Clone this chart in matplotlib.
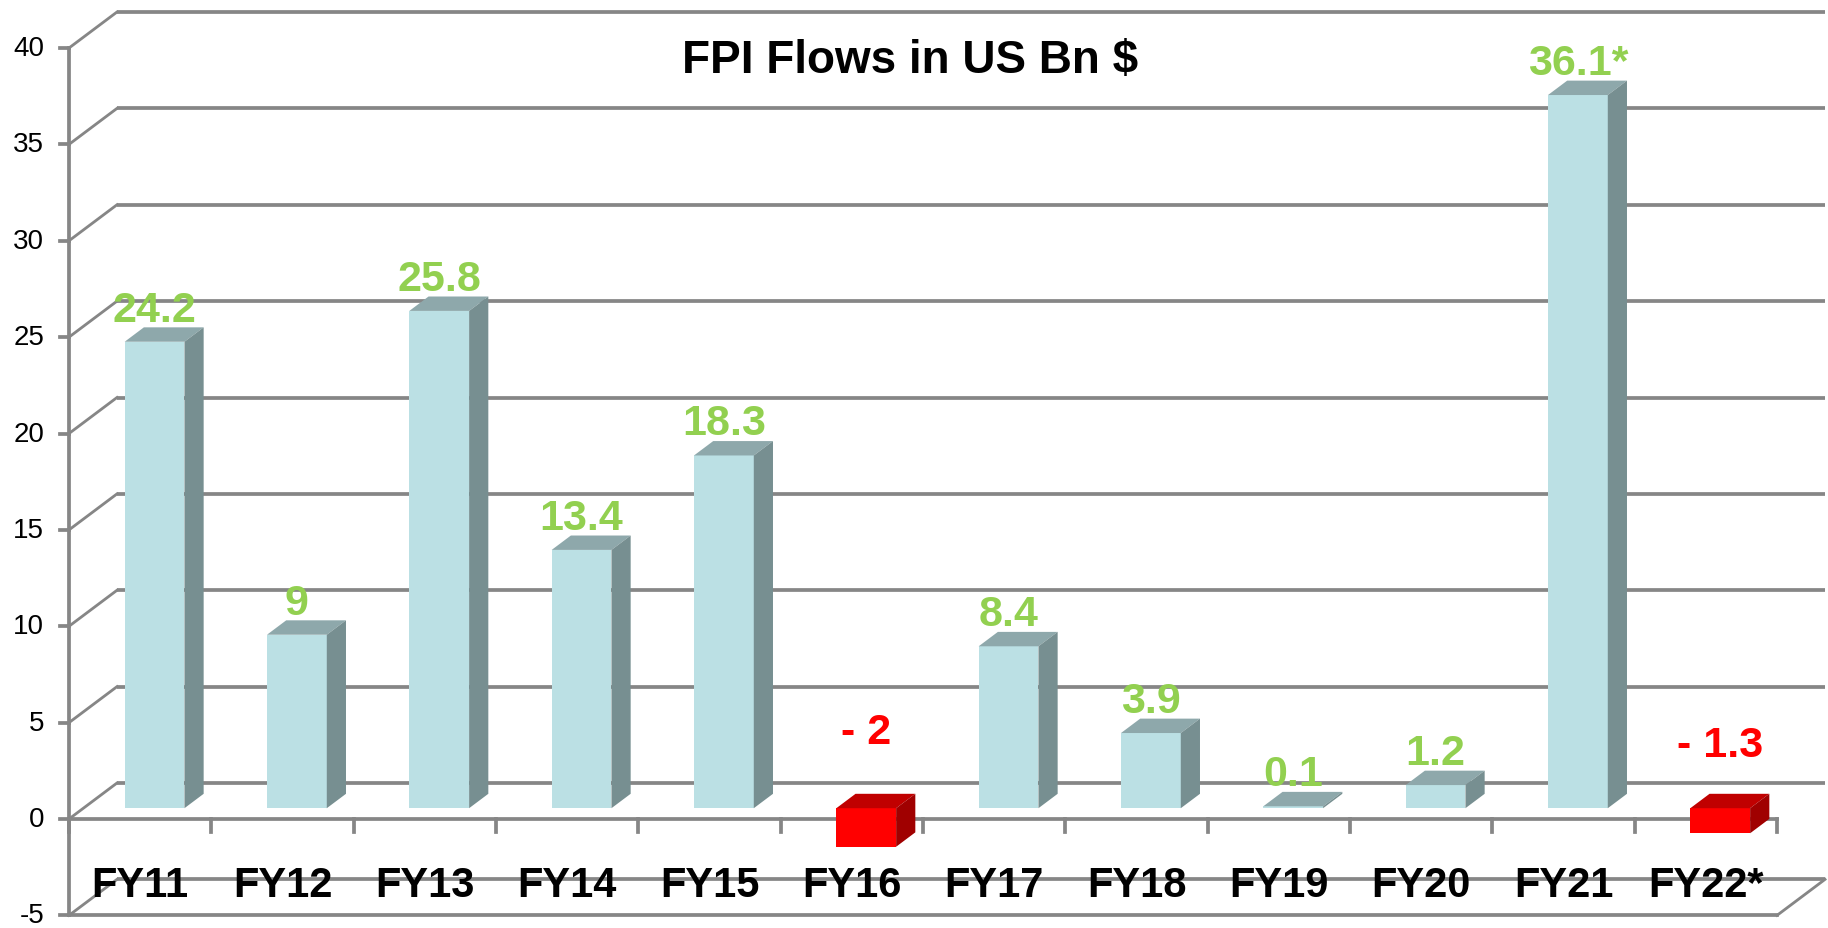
import matplotlib
matplotlib.use("Agg")
import matplotlib.pyplot as plt
from matplotlib.patches import Polygon

# ---- data ----
categories = ["FY11", "FY12", "FY13", "FY14", "FY15", "FY16",
              "FY17", "FY18", "FY19", "FY20", "FY21", "FY22*"]
bar_values = [24.2, 9.0, 25.8, 13.4, 18.3, -2.0, 8.4, 3.9, 0.1, 1.2, 37.0, -1.3]
value_labels = ["24.2", "9", "25.8", "13.4", "18.3", "- 2", "8.4", "3.9",
                "0.1", "1.2", "36.1*", "- 1.3"]
y_ticks = [-5, 0, 5, 10, 15, 20, 25, 30, 35, 40]
title = "FPI Flows in US Bn $"

plt.rcParams['font.family'] = ['Liberation Sans', 'DejaVu Sans']

W, H = 1828, 929
fig = plt.figure(figsize=(W / 100, H / 100), dpi=100)
ax = fig.add_axes([0, 0, 1, 1])
ax.axis('off')

# pixel geometry of the front plane
px_left, px_right = 69, 1777          # front plane x extent (-0.5 .. 11.5)
py_zero, px_per_unit = 820, 19.275     # y pixel of 0, pixels per value unit
n = len(categories)
px_per_cat = (px_right - px_left) / n
ax.set_xlim(-0.5 - px_left / px_per_cat, -0.5 + (W - px_left) / px_per_cat)
ax.set_ylim((py_zero - H) / px_per_unit, py_zero / px_per_unit)

DX = 48 / px_per_cat     # depth offset of back wall (x, data units)
DY = 36 / px_per_unit    # depth offset of back wall (y, data units)
xl0, xr0 = -0.5, n - 0.5
ymin, ymax = y_ticks[0], y_ticks[-1]

grid_c = '#868686'
lw = 2.7

# back wall grid lines + side wall diagonals
for v in y_ticks:
    ax.plot([xl0 + DX, xr0 + DX], [v + DY, v + DY], color=grid_c, lw=lw,
            solid_capstyle='butt', zorder=1)
    ax.plot([xl0, xl0 + DX], [v, v + DY], color=grid_c, lw=lw * 0.75, zorder=1)

# floor at ymin
ax.plot([xl0, xr0], [ymin, ymin], color=grid_c, lw=lw, zorder=1)
ax.plot([xr0, xr0 + DX], [ymin, ymin + DY], color=grid_c, lw=lw * 0.75, zorder=1)

# front vertical axis with ticks
ax.plot([xl0, xl0], [ymin, ymax], color=grid_c, lw=lw, zorder=4)
tick_len_x = 9 / px_per_cat
for v in y_ticks:
    ax.plot([xl0 - tick_len_x, xl0], [v, v], color=grid_c, lw=lw, zorder=4)
    ax.text(xl0 - 25 / px_per_cat, v, str(v), ha='right', va='center',
            fontsize=20, color='black')

# category axis at 0 with ticks
ax.plot([xl0, xr0], [0, 0], color=grid_c, lw=lw, zorder=2)
tick_len_y = 13 / px_per_unit
for k in range(n + 1):
    ax.plot([xl0 + k, xl0 + k], [0, -tick_len_y], color=grid_c, lw=lw, zorder=2)

# bars (pseudo 3D)
f0, fd = 0.30, 0.40           # front plane depth fraction, bar depth fraction
sx, sy = f0 * DX, f0 * DY
bdx, bdy = fd * DX, fd * DY
bw = 0.42
xs = list(range(n))

pos_cols = ('#bbe0e4', '#8ea8ab', '#778f91')
neg_cols = ('#ff0000', '#c00000', '#a00000')

bars = ax.bar([x + sx for x in xs], bar_values, width=bw, bottom=sy,
              color=[neg_cols[0] if v < 0 else pos_cols[0] for v in bar_values],
              linewidth=0, zorder=5)

for x, v, rect in zip(xs, bar_values, bars):
    cols = neg_cols if v < 0 else pos_cols
    xl = rect.get_x()
    xr = xl + rect.get_width()
    top = max(v, 0) + sy
    bot = min(v, 0) + sy
    ax.add_patch(Polygon([(xl, top), (xr, top), (xr + bdx, top + bdy),
                          (xl + bdx, top + bdy)], closed=True,
                         facecolor=cols[1], edgecolor='none', zorder=5))
    ax.add_patch(Polygon([(xr, bot), (xr, top), (xr + bdx, top + bdy),
                          (xr + bdx, bot + bdy)], closed=True,
                         facecolor=cols[2], edgecolor='none', zorder=5))

# value labels
for x, v, lab in zip(xs, bar_values, value_labels):
    if v < 0:
        yy, col = abs(v) + 1.95, '#ff0000'
    else:
        yy, col = v + 1.65, '#92d050'
    ax.text(x + sx, yy, lab, ha='center', va='baseline', fontsize=31,
            fontweight='bold', color=col, zorder=6)

# category labels
for x, c in zip(xs, categories):
    ax.text(x, (py_zero - 897) / px_per_unit, c, ha='center', va='baseline',
            fontsize=30, fontweight='bold', color='black', zorder=6)

# title
fig.text(910 / W, 1 - 73 / H, title, ha='center', va='baseline',
         fontsize=33, fontweight='bold', color='black')

fig.savefig('out.png', dpi=100, facecolor='white')
